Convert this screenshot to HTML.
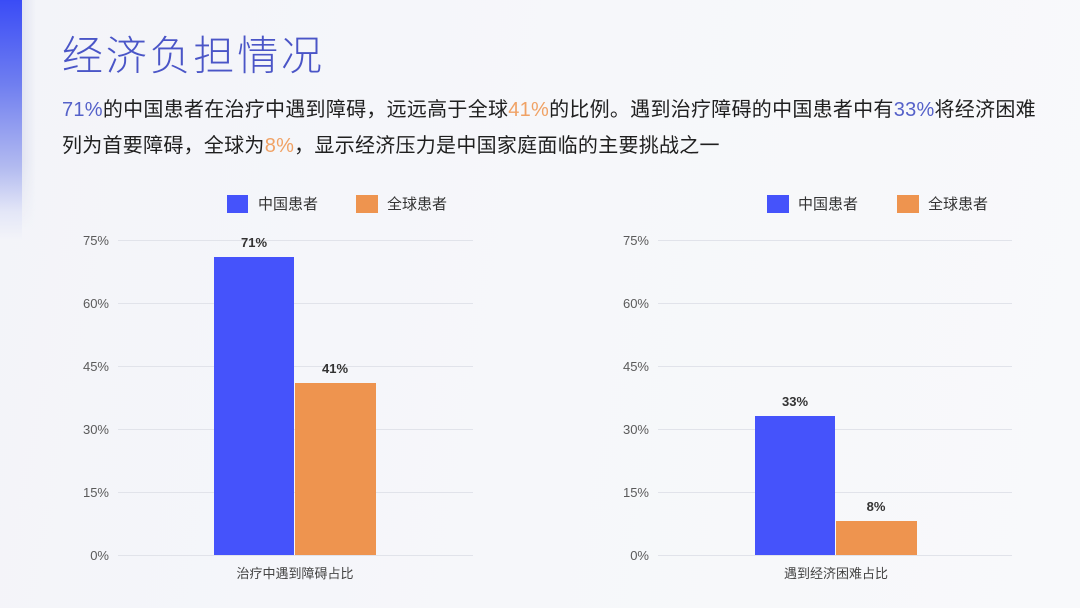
<!DOCTYPE html>
<html><head><meta charset="utf-8">
<style>
html,body{margin:0;padding:0;}
body{width:1080px;height:608px;position:relative;overflow:hidden;background:linear-gradient(100deg,#f3f4f9 0%,#f6f7fa 50%,#f8f9fb 100%);font-family:"Liberation Sans","Noto Sans CJK SC",sans-serif;}
.strip{position:absolute;left:0;top:0;width:22px;height:240px;background:linear-gradient(180deg,#3a4cf6 0%,#6f7ef0 35%,#b3bbf0 70%,#e3e6f7 88%,rgba(243,244,249,0) 100%);}
.shadow{position:absolute;left:22px;top:0;width:14px;height:230px;background:linear-gradient(90deg,rgba(200,205,230,0.4),rgba(243,244,249,0));-webkit-mask-image:linear-gradient(180deg,#000 70%,transparent 100%);mask-image:linear-gradient(180deg,#000 70%,transparent 100%);}
.title{position:absolute;left:62px;top:31px;font-size:41px;line-height:50px;letter-spacing:2.8px;color:#4a55c7;font-weight:300;white-space:nowrap;}
.para{position:absolute;left:62px;top:92px;font-size:20px;line-height:36px;letter-spacing:0.27px;color:#1f1f1f;white-space:nowrap;}
.b{color:#5561c9;}
.o{color:#f0a265;}
svg{position:absolute;left:0;top:0;}
</style></head><body>
<div class="strip"></div>
<div class="shadow"></div>
<div class="title">经济负担情况</div>
<div class="para"><span class="b">71%</span>的中国患者在治疗中遇到障碍，远远高于全球<span class="o">41%</span>的比例。遇到治疗障碍的中国患者中有<span class="b">33%</span>将经济困难<br>列为首要障碍，全球为<span class="o">8%</span>，显示经济压力是中国家庭面临的主要挑战之一</div>
<svg width="1080" height="608" viewBox="0 0 1080 608" font-family="Liberation Sans, Noto Sans CJK SC, sans-serif">
  <g stroke="#e1e3ea" stroke-width="1">
    <line x1="118" y1="240.5" x2="473" y2="240.5"/>
    <line x1="118" y1="303.5" x2="473" y2="303.5"/>
    <line x1="118" y1="366.5" x2="473" y2="366.5"/>
    <line x1="118" y1="429.5" x2="473" y2="429.5"/>
    <line x1="118" y1="492.5" x2="473" y2="492.5"/>
    <line x1="118" y1="555.5" x2="473" y2="555.5"/>
    <line x1="658" y1="240.5" x2="1012" y2="240.5"/>
    <line x1="658" y1="303.5" x2="1012" y2="303.5"/>
    <line x1="658" y1="366.5" x2="1012" y2="366.5"/>
    <line x1="658" y1="429.5" x2="1012" y2="429.5"/>
    <line x1="658" y1="492.5" x2="1012" y2="492.5"/>
    <line x1="658" y1="555.5" x2="1012" y2="555.5"/>
  </g>
  <g font-size="13" fill="#5a5a5a" text-anchor="end">
    <text x="109" y="245">75%</text>
    <text x="109" y="308">60%</text>
    <text x="109" y="371">45%</text>
    <text x="109" y="434">30%</text>
    <text x="109" y="497">15%</text>
    <text x="109" y="560">0%</text>
    <text x="649" y="245">75%</text>
    <text x="649" y="308">60%</text>
    <text x="649" y="371">45%</text>
    <text x="649" y="434">30%</text>
    <text x="649" y="497">15%</text>
    <text x="649" y="560">0%</text>
  </g>
  <rect x="214" y="257" width="80" height="298" fill="#4553fb"/>
  <rect x="295" y="383" width="81" height="172" fill="#ee944f"/>
  <rect x="755" y="416" width="80" height="139" fill="#4553fb"/>
  <rect x="836" y="521" width="81" height="34" fill="#ee944f"/>
  <g font-size="13" font-weight="bold" fill="#333" text-anchor="middle">
    <text x="254" y="247">71%</text>
    <text x="335" y="373">41%</text>
    <text x="795" y="406">33%</text>
    <text x="876" y="511">8%</text>
  </g>
  <rect x="227" y="195" width="21" height="18" fill="#4553fb"/>
  <rect x="356" y="195" width="22" height="18" fill="#ee944f"/>
  <rect x="767" y="195" width="22" height="18" fill="#4553fb"/>
  <rect x="897" y="195" width="22" height="18" fill="#ee944f"/>
  <g font-size="15" fill="#333">
    <text x="258" y="209">中国患者</text>
    <text x="387" y="209">全球患者</text>
    <text x="798" y="209">中国患者</text>
    <text x="928" y="209">全球患者</text>
  </g>
  <g font-size="13" fill="#444" text-anchor="middle">
    <text x="295" y="578">治疗中遇到障碍占比</text>
    <text x="836" y="578">遇到经济困难占比</text>
  </g>
</svg>
</body></html>
